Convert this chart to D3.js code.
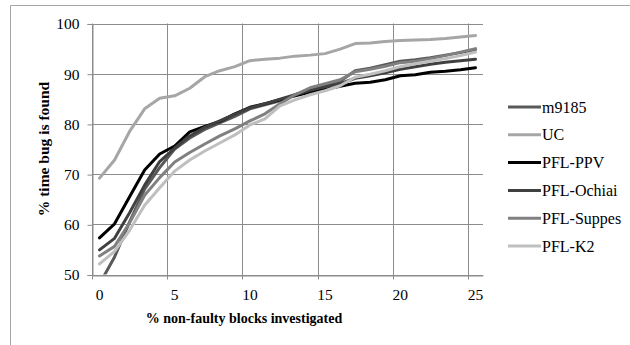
<!DOCTYPE html>
<html>
<head>
<meta charset="utf-8">
<script src="https://cdn.jsdelivr.net/npm/d3@7"></script>
<style>
  html, body { margin: 0; padding: 0; background: #fff; }
</style>
</head>
<body>
<svg id="chart" width="630" height="345"></svg>
<script>
// Percentage of non-faulty blocks investigated (category axis)
const categories = d3.range(0, 26);

// % of time the bug is found, per technique
const m9185   = [48.1, 53.5, 60.5, 67.0, 71.3, 75.0, 77.2, 78.9, 80.2, 81.5, 83.0, 83.8, 84.6, 85.8, 86.8, 87.5, 88.5, 90.6, 91.1, 91.8, 92.5, 92.8, 93.2, 93.7, 94.2, 94.8];
const uc      = [69.2, 72.8, 78.5, 83.0, 85.1, 85.6, 87.1, 89.4, 90.6, 91.4, 92.6, 92.9, 93.1, 93.5, 93.7, 94.0, 94.9, 96.0, 96.1, 96.4, 96.6, 96.7, 96.8, 97.0, 97.3, 97.6];
const pflPPV  = [57.3, 60.1, 65.5, 70.8, 74.0, 75.6, 78.4, 79.5, 80.5, 82.0, 83.3, 84.0, 84.8, 85.6, 86.3, 86.9, 87.5, 88.1, 88.3, 88.8, 89.6, 89.8, 90.3, 90.5, 90.8, 91.2];
const pflOchiai = [54.9, 57.2, 62.3, 67.8, 72.5, 75.2, 77.6, 79.3, 80.6, 81.9, 83.2, 84.0, 84.9, 85.8, 86.7, 87.4, 88.0, 89.1, 89.6, 90.2, 90.9, 91.4, 91.9, 92.3, 92.6, 92.9];
const pflSuppes = [53.7, 55.6, 60.3, 65.8, 69.3, 72.4, 74.3, 76.0, 77.6, 79.0, 80.6, 82.0, 84.0, 85.8, 87.2, 88.0, 88.8, 90.4, 90.9, 91.5, 92.2, 92.5, 93.0, 93.6, 94.3, 95.0];
const pflK2   = [52.1, 54.6, 58.8, 63.8, 67.3, 70.6, 72.8, 74.6, 76.2, 77.8, 79.8, 81.0, 83.6, 84.8, 85.8, 86.6, 87.6, 89.3, 89.9, 90.6, 91.4, 92.0, 92.5, 93.0, 93.6, 94.3];

const seriesNames  = ["m9185", "UC", "PFL-PPV", "PFL-Ochiai", "PFL-Suppes", "PFL-K2"];
const seriesValues = [m9185, uc, pflPPV, pflOchiai, pflSuppes, pflK2];
const seriesColors = ["#595959", "#a6a6a6", "#000000", "#404040", "#808080", "#bfbfbf"];

const yTicks = [50, 60, 70, 80, 90, 100];
const xTickLabels = [0, 5, 10, 15, 20, 25];

const FONT = "'Liberation Serif', 'Times New Roman', serif";
const svg = d3.select("#chart");
const plot = { left: 92, right: 483, top: 23.5, bottom: 274.5 };
const gridColor = "#8c8c8c";

// Chart area border (top and left edges visible)
svg.append("line").attr("x1", 10.5).attr("x2", 630).attr("y1", 5.5).attr("y2", 5.5)
  .attr("stroke", "#a6a6a6").attr("stroke-width", 1);
svg.append("line").attr("x1", 10.5).attr("x2", 10.5).attr("y1", 5.5).attr("y2", 345)
  .attr("stroke", "#a6a6a6").attr("stroke-width", 1);

const x = d3.scaleBand().domain(categories).range([plot.left, plot.right]).paddingInner(0).paddingOuter(0);
const y = d3.scaleLinear().domain([50, 100]).range([plot.bottom, plot.top]);
const cx = c => x(c) + x.bandwidth() / 2;

// Horizontal gridlines
svg.append("g").selectAll("line").data(yTicks).join("line")
  .attr("x1", plot.left).attr("x2", plot.right)
  .attr("y1", d => Math.round(y(d)) + 0.5).attr("y2", d => Math.round(y(d)) + 0.5)
  .attr("stroke", gridColor).attr("stroke-width", 1);

// Vertical gridlines on category boundaries every 5 categories
const boundaries = [0, 5, 10, 15, 20, 25];
svg.append("g").selectAll("line").data(boundaries).join("line")
  .attr("x1", d => Math.round(x(d)) + 0.5).attr("x2", d => Math.round(x(d)) + 0.5)
  .attr("y1", plot.top).attr("y2", plot.bottom + 5)
  .attr("stroke", gridColor).attr("stroke-width", 1);

// Y axis
const yAxis = svg.append("g")
  .attr("transform", `translate(${plot.left + 0.5},0.5)`)
  .call(d3.axisLeft(y).tickValues(yTicks).tickSize(5).tickPadding(8));
yAxis.select(".domain").attr("stroke", gridColor);
yAxis.selectAll(".tick line").attr("stroke", gridColor);
yAxis.selectAll("text").style("font-family", FONT).style("font-size", "15.5px").attr("fill", "#000");

// X axis labels at the centres of every fifth category
const xAxis = svg.append("g")
  .attr("transform", `translate(0,${Math.round(plot.bottom) + 0.5})`)
  .call(d3.axisBottom(x).tickValues(xTickLabels).tickSize(0).tickPadding(13));
xAxis.select(".domain").attr("stroke", gridColor);
xAxis.selectAll("text").style("font-family", FONT).style("font-size", "15.5px").attr("fill", "#000");

// Axis titles
svg.append("text")
  .attr("transform", "translate(49,149) rotate(-90)")
  .attr("text-anchor", "middle")
  .style("font-family", FONT).style("font-weight", "bold").style("font-size", "15.5px")
  .text("% time bug is found");
svg.append("text")
  .attr("x", 244).attr("y", 323)
  .attr("text-anchor", "middle")
  .style("font-family", FONT).style("font-weight", "bold").style("font-size", "14px")
  .text("% non-faulty blocks investigated");

// Series lines, clipped to the plot area
svg.append("clipPath").attr("id", "plotClip").append("rect")
  .attr("x", plot.left).attr("y", plot.top - 5)
  .attr("width", plot.right - plot.left).attr("height", plot.bottom - plot.top + 5);

const line = d3.line().x((d, i) => cx(categories[i])).y(d => y(d));
svg.append("g").attr("clip-path", "url(#plotClip)")
  .selectAll("path").data(seriesValues).join("path")
  .attr("d", d => line(d))
  .attr("fill", "none")
  .attr("stroke", (d, i) => seriesColors[i])
  .attr("stroke-width", 3)
  .attr("stroke-linejoin", "round")
  .attr("stroke-linecap", "round");

// Legend
const legend = svg.append("g").attr("transform", "translate(508,107)");
const rows = legend.selectAll("g").data(seriesNames).join("g")
  .attr("transform", (d, i) => `translate(0,${i * 27.8})`);
rows.append("line").attr("x1", 0).attr("x2", 33).attr("y1", 0).attr("y2", 0)
  .attr("stroke", (d, i) => seriesColors[i]).attr("stroke-width", 3);
rows.append("text").attr("x", 34).attr("y", 5.5).attr("fill", "#000")
  .style("font-family", FONT).style("font-size", "16px")
  .text(d => d);
</script>
</body>
</html>
